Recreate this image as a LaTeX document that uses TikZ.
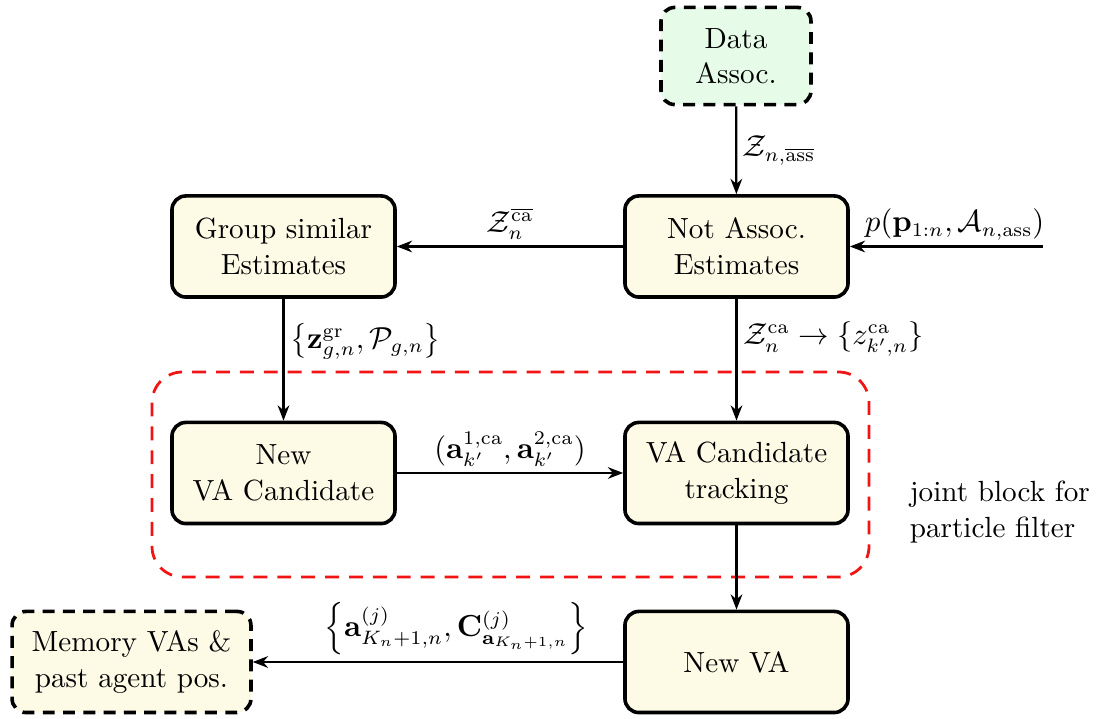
\documentclass[tikz,border=0pt]{standalone}
\usepackage{amsmath,amssymb}
\usetikzlibrary{arrows.meta}

\definecolor{blockfill}{RGB}{253,250,230}
\definecolor{assocfill}{RGB}{230,252,232}
\definecolor{jointred}{RGB}{240,20,20}

\tikzset{
  blk/.style={draw, line width=1.3pt, rounded corners=5pt, fill=blockfill,
    minimum width=80.3pt, minimum height=36.4pt, align=center, inner sep=2pt,
    font=\fontsize{10.5}{12.8}\selectfont},
  extblk/.style={blk, dash pattern=on 4.3pt off 3pt},
  flow/.style={line width=0.8pt, -{Stealth[length=5.5pt,width=4.2pt]}},
  lbl/.style={inner sep=2pt, font=\fontsize{10.5}{12.8}\selectfont},
}

\begin{document}
\begin{tikzpicture}[x=0.36pt, y=-0.36pt]
  \useasboundingbox (0,0) rectangle (1102,719);

  % processing blocks
  \node[extblk, fill=assocfill, minimum width=54pt, minimum height=35pt] (da) at (736,56) {Data\\Assoc.};
  \node[blk] (na) at (736.5,246.5) {Not Assoc.\\Estimates};
  \node[blk] (gs) at (283.5,246.5) {Group similar\\Estimates};
  \node[blk] (nc) at (283.5,473) {New\\VA Candidate};
  \node[blk] (ct) at (736.5,473) {VA Candidate\\tracking};
  \node[blk] (nv) at (736.5,662) {New VA};
  \node[extblk, minimum width=86pt] (mem) at (131.5,662) {Memory VAs \&\\past agent pos.};

  % particle filter group
  \coordinate (pfa) at (152,372);
  \coordinate (pfb) at (869,577);
  \draw[jointred, line width=1pt, dash pattern=on 5pt off 3.6pt, rounded corners=11pt] (pfa) rectangle (pfb);
  \node[anchor=west, align=left, font=\fontsize{10.5}{12.8}\selectfont] (pftext) at (900,512) {joint block for\\particle filter};

  % external input
  \coordinate (inp) at (1043,246.5);

  % connections
  \draw[flow] (da) -- node[lbl, right] {$\mathcal{Z}_{n,\overline{\mathrm{ass}}}$} (na);
  \draw[flow] (inp) -- node[lbl, above, xshift=3pt] {$p(\mathbf{p}_{1:n},\mathcal{A}_{n,\mathrm{ass}})$} (na);
  \draw[flow] (na) -- node[lbl, above] {$\mathcal{Z}_n^{\overline{\mathrm{ca}}}$} (gs);
  \draw[flow] (gs) -- node[lbl, right, pos=0.35] {$\left\{\mathbf{z}^{\mathrm{gr}}_{g,n},\mathcal{P}_{g,n}\right\}$} (nc);
  \draw[flow] (na) -- node[lbl, right, pos=0.33] {$\mathcal{Z}_n^{\mathrm{ca}}\rightarrow\{z^{\mathrm{ca}}_{k',n}\}$} (ct);
  \draw[flow] (nc) -- node[lbl, above] {$(\mathbf{a}^{1,\mathrm{ca}}_{k'},\mathbf{a}^{2,\mathrm{ca}}_{k'})$} (ct);
  \draw[flow] (ct) -- (nv);
  \draw[flow] (nv) -- node[lbl, above, pos=0.45] {$\left\{\mathbf{a}^{(j)}_{K_n+1,n},\mathbf{C}^{(j)}_{\mathbf{a}_{K_n+1,n}}\right\}$} (mem);
\end{tikzpicture}
\end{document}
